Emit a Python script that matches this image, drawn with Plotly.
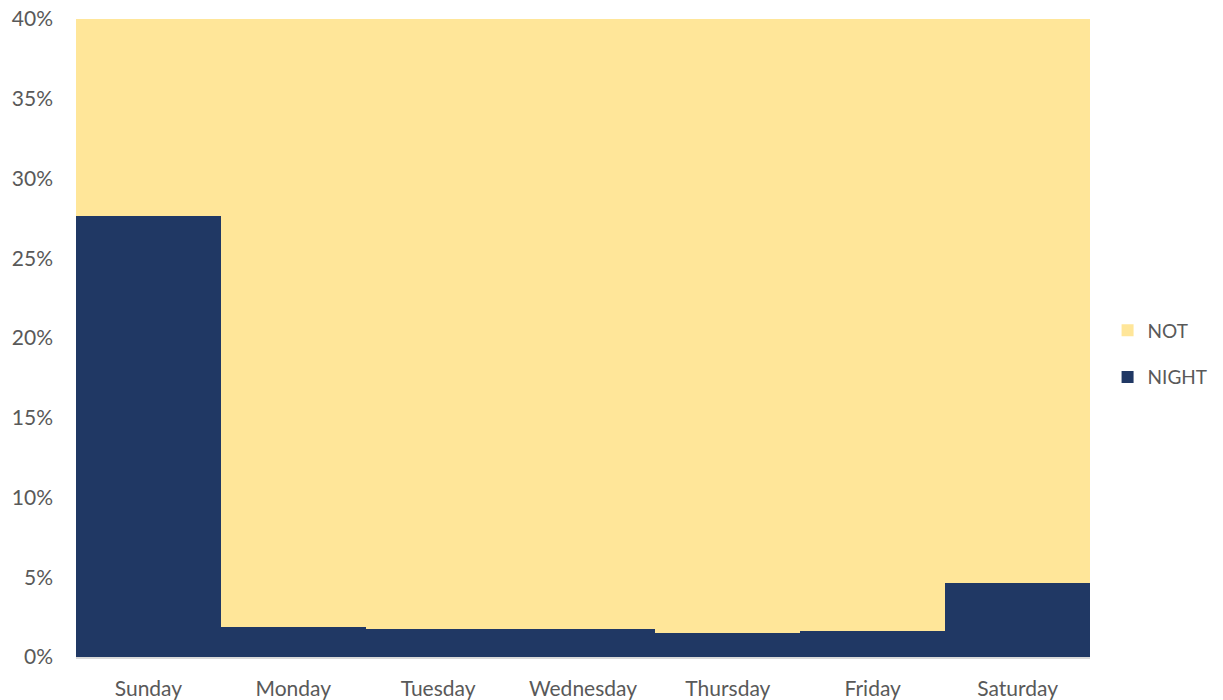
import plotly.graph_objects as go

days = ["Sunday", "Monday", "Tuesday", "Wednesday", "Thursday", "Friday", "Saturday"]
night = [27.67, 1.90, 1.77, 1.77, 1.52, 1.65, 4.64]
not_night = [100 - v for v in night]
y_ticks = [0, 5, 10, 15, 20, 25, 30, 35, 40]
y_tick_labels = [f"{v}%" for v in y_ticks]

font_family = "Lato, 'Open Sans', sans-serif"
text_color = "#595959"
fs = 21

fig = go.Figure()
fig.add_trace(go.Bar(x=days, y=night, name="NIGHT", marker=dict(color="#203864", line=dict(width=0)),
                     legendgroup="a", legendrank=2))
fig.add_trace(go.Bar(x=days, y=not_night, name="NOT", marker=dict(color="#FFE699", line=dict(width=0)),
                     legendgroup="b", legendrank=1))

# page body has an 8px default margin, so the figure is sized to fit inside the window
fig.update_layout(
    width=1215, height=692,
    barmode="stack", bargap=0,
    paper_bgcolor="white", plot_bgcolor="white",
    margin=dict(l=68, r=133, t=11, b=43, autoexpand=False),
    font=dict(family=font_family, size=fs, color=text_color),
    legend=dict(xref="container", yref="container", x=0.905, y=0.5,
                xanchor="left", yanchor="middle",
                traceorder="grouped", tracegroupgap=19,
                font=dict(size=19, color=text_color)),
    xaxis=dict(showline=True, linecolor="#D9D9D9", linewidth=1.5, ticks="",
               automargin=False, ticklabeloverflow="allow",
               ticklabelstandoff=12, tickfont=dict(size=fs, color=text_color)),
    yaxis=dict(range=[0, 40], tickvals=y_ticks, ticktext=y_tick_labels,
               showgrid=True, gridcolor="#D9D9D9", zeroline=False, showline=False,
               automargin=False, ticklabeloverflow="allow",
               ticklabelstandoff=22, tickfont=dict(size=fs, color=text_color)),
)

fig.write_html("out.html")
